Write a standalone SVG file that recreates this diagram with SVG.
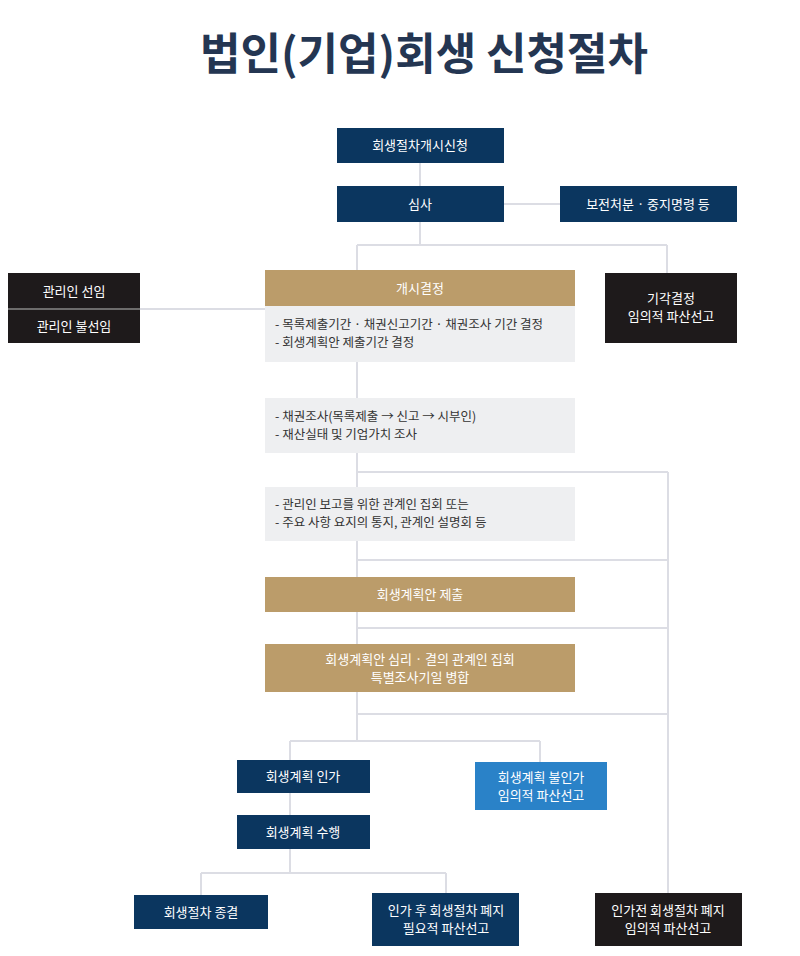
<svg xmlns="http://www.w3.org/2000/svg" width="800" height="956" viewBox="0 0 800 956">
<style>
text{font-family:"Noto Sans CJK KR","Noto Sans",sans-serif;font-size:13px;text-anchor:middle;fill:#fff}
.title{font-size:44px;font-weight:bold;fill:#243652}
.navy{fill:#0b365f}
.black{fill:#1e1a1b}
.gold{fill:#bb9c6a}
.gray{fill:#eeeff1}
.blue{fill:#2a82c8}
.d{fill:#333;text-anchor:start;font-size:12.5px}
#connectors path{stroke:#dcdde4;stroke-width:2;fill:none}
</style>
<rect width="800" height="956" fill="#fff"/>
<text class="title" x="424" y="70">법인(기업)회생 신청절차</text>
<g id="connectors">
<path d="M420 163V186M504 204H560M420 222V245M357 245H667M357 245V270M667 245V273M140 309H265"/>
<path d="M357 362V398M357 453V487M357 541V577M357 612V644M357 692V741"/>
<path d="M357 472H668M357 560H668M357 628H668M357 714H668M668 472V893"/>
<path d="M290 741H540M290 741V760M540 741V762M290 793V815M290 849V873M201 873H446M201 873V895M446 873V893"/>
</g>
<g id="n1"><rect class="navy" x="337" y="128" width="167" height="35"/><text x="420" y="150">회생절차개시신청</text></g>
<g id="n2"><rect class="navy" x="337" y="186" width="167" height="36"/><text x="420" y="209">심사</text></g>
<g id="n3"><rect class="navy" x="560" y="186" width="177" height="36"/><text x="648" y="209">보전처분 · 중지명령 등</text></g>
<g id="n4"><rect class="gold" x="265" y="270" width="310" height="36"/><text x="420" y="293">개시결정</text>
<rect class="gray" x="265" y="306" width="310" height="56"/><text class="d" x="275" y="329">- 목록제출기간 · 채권신고기간 · 채권조사 기간 결정</text><text class="d" x="275" y="347">- 회생계획안 제출기간 결정</text></g>
<g id="n5"><rect class="black" x="8" y="273" width="132" height="70"/><line x1="8" y1="309" x2="140" y2="309" stroke="#888" stroke-width="1.5"/><text x="74" y="296">관리인 선임</text><text x="74" y="331">관리인 불선임</text></g>
<g id="n6"><rect class="black" x="605" y="273" width="132" height="70"/><text x="671" y="303">기각결정</text><text x="671" y="321">임의적 파산선고</text></g>
<g id="n7"><rect class="gray" x="265" y="398" width="310" height="55"/><text class="d" x="275" y="421">- 채권조사(목록제출 → 신고 → 시부인)</text><text class="d" x="275" y="439">- 재산실태 및 기업가치 조사</text></g>
<g id="n8"><rect class="gray" x="265" y="487" width="310" height="54"/><text class="d" x="275" y="509">- 관리인 보고를 위한 관계인 집회 또는</text><text class="d" x="275" y="527">- 주요 사항 요지의 통지, 관계인 설명회 등</text></g>
<g id="n9"><rect class="gold" x="265" y="577" width="310" height="35"/><text x="420" y="599">회생계획안 제출</text></g>
<g id="n10"><rect class="gold" x="265" y="644" width="310" height="48"/><text x="420" y="664">회생계획안 심리 · 결의 관계인 집회</text><text x="420" y="682">특별조사기일 병합</text></g>
<g id="n11"><rect class="navy" x="237" y="760" width="133" height="33"/><text x="303" y="781">회생계획 인가</text></g>
<g id="n12"><rect class="blue" x="475" y="762" width="132" height="48"/><text x="541" y="782">회생계획 불인가</text><text x="541" y="800">임의적 파산선고</text></g>
<g id="n13"><rect class="navy" x="237" y="815" width="133" height="34"/><text x="303" y="837">회생계획 수행</text></g>
<g id="n14"><rect class="navy" x="134" y="895" width="134" height="34"/><text x="201" y="917">회생절차 종결</text></g>
<g id="n15"><rect class="navy" x="372" y="893" width="147" height="53"/><text x="446" y="915">인가 후 회생절차 폐지</text><text x="446" y="933">필요적 파산선고</text></g>
<g id="n16"><rect class="black" x="595" y="893" width="147" height="53"/><text x="668" y="915">인가전 회생절차 폐지</text><text x="668" y="933">임의적 파산선고</text></g>
</svg>
